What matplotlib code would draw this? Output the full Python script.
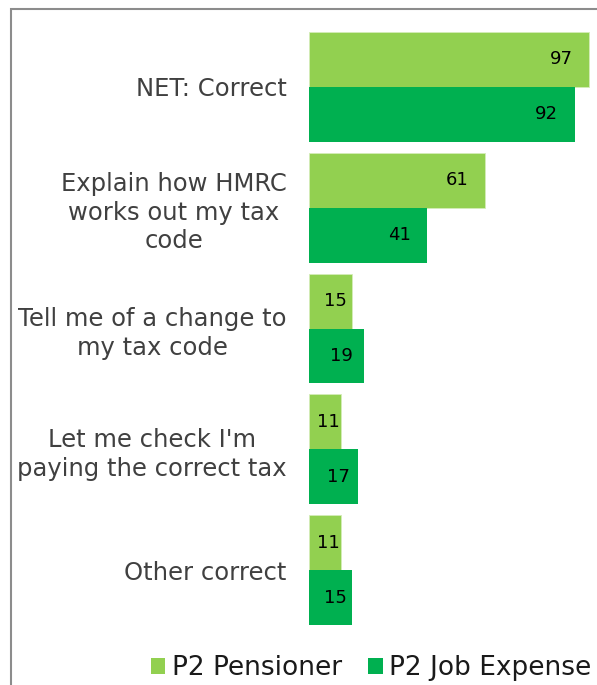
import matplotlib
matplotlib.use("Agg")
import matplotlib.pyplot as plt
from matplotlib.patches import Patch, Rectangle
import numpy as np

categories = ["NET: Correct", "Explain how HMRC\nworks out my tax\ncode",
              "Tell me of a change to\nmy tax code", "Let me check I'm\npaying the correct tax",
              "Other correct"]
series_names = ["P2 Pensioner", "P2 Job Expense"]
pensioner = [97, 61, 15, 11, 11]
job_expense = [92, 41, 19, 17, 15]

c_light = "#92D050"
c_dark = "#00B050"

W, H = 597, 685
fig = plt.figure(figsize=(W/100, H/100), dpi=100)
plt.rcParams['font.family'] = ['DejaVu Sans']

# frame
fig.patches.append(Rectangle((11/W, -0.05), 1.1, 1 - 9/H + 0.05, transform=fig.transFigure,
                             fill=False, edgecolor="#8c8c8c", linewidth=1.5))

ax_left = 309/W
ax = fig.add_axes([ax_left, 1 - 630.5/H, 1 - ax_left, 604/H])
ax.set_xlim(0, (W - 309)/2.887)
n = len(categories)
ax.set_ylim(n - 0.5, -0.5)

y = np.arange(n)
h = 0.4545
ax.barh(y - h/2, pensioner, height=h, color=c_light, edgecolor="#d4ecb8", linewidth=0.6)
ax.barh(y + h/2, job_expense, height=h, color=c_dark, linewidth=0)

def lab_x(v):
    return v - min(9.7, 0.4*v)

for i in range(n):
    ax.text(lab_x(pensioner[i]), y[i] - h/2, str(pensioner[i]), ha="center", va="center",
            fontsize=13, color="black")
    ax.text(lab_x(job_expense[i]), y[i] + h/2, str(job_expense[i]), ha="center", va="center",
            fontsize=13, color="black")

ax.set_yticks(y)
ax.set_yticklabels(categories, fontsize=17.5, color="#404040", multialignment="center",
                   linespacing=1.25)
ax.tick_params(axis="y", length=0, pad=16)
ax.set_xticks([])
for s in ax.spines.values():
    s.set_visible(False)
ax.patch.set_alpha(0)

handles = [Patch(facecolor=c_light, edgecolor="none"), Patch(facecolor=c_dark, edgecolor="none")]
fig.legend(handles, series_names, loc="center", bbox_to_anchor=(371/W, 1 - 668/H), ncol=2,
           frameon=False, fontsize=19, handlelength=0.55, handleheight=0.55,
           handletextpad=0.25, columnspacing=1.0, labelcolor="#1a1a1a")

fig.savefig("out.png", dpi=100)
